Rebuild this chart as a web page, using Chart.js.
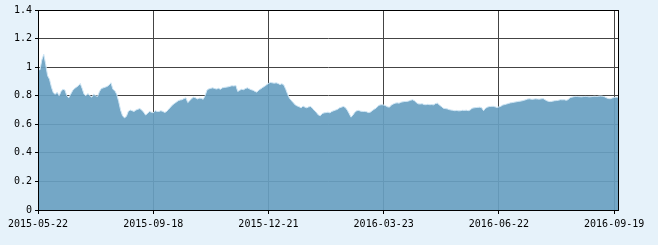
<!DOCTYPE html>
<html>
<head>
<meta charset="utf-8">
<script src="https://cdn.jsdelivr.net/npm/chart.js@4"></script>
<style>
  html, body { margin: 0; padding: 0; background: #e6f2fa; }
  #wrap { width: 658px; height: 245px; position: relative; }
</style>
</head>
<body>
<div id="wrap"><canvas id="c" width="658" height="245"></canvas></div>
<script>
// Net value series (one value per trading point)
const values = [
  0.99,0.98,1.05,1.09,1.02,0.94,0.915,0.86,0.82,0.81,
  0.825,0.80,0.83,0.845,0.84,0.80,0.785,0.81,0.835,0.85,
  0.86,0.87,0.885,0.85,0.81,0.80,0.815,0.80,0.79,0.81,
  0.80,0.795,0.83,0.85,0.855,0.86,0.865,0.875,0.89,0.845,
  0.835,0.81,0.76,0.70,0.66,0.645,0.655,0.69,0.70,0.695,
  0.69,0.70,0.705,0.71,0.70,0.685,0.665,0.675,0.69,0.685,
  0.68,0.695,0.69,0.69,0.695,0.69,0.683,0.69,0.705,0.72,
  0.735,0.745,0.755,0.765,0.77,0.772,0.78,0.785,0.752,0.765,
  0.78,0.79,0.785,0.777,0.783,0.782,0.775,0.80,0.84,0.848,
  0.852,0.855,0.85,0.847,0.852,0.845,0.855,0.858,0.86,0.862,
  0.866,0.87,0.868,0.872,0.83,0.838,0.845,0.842,0.85,0.855,
  0.848,0.842,0.838,0.83,0.825,0.84,0.848,0.858,0.866,0.876,
  0.886,0.893,0.89,0.888,0.89,0.886,0.878,0.884,0.875,0.845,
  0.81,0.78,0.765,0.75,0.735,0.728,0.722,0.715,0.728,0.72,
  0.715,0.722,0.725,0.71,0.695,0.682,0.665,0.66,0.675,0.68,
  0.682,0.685,0.68,0.69,0.695,0.70,0.705,0.715,0.72,0.725,
  0.718,0.70,0.675,0.65,0.665,0.685,0.695,0.697,0.692,0.69,
  0.69,0.688,0.682,0.685,0.695,0.705,0.712,0.728,0.735,0.737,
  0.735,0.73,0.722,0.72,0.735,0.742,0.748,0.75,0.748,0.755,
  0.757,0.76,0.76,0.763,0.768,0.772,0.765,0.752,0.743,0.742,
  0.744,0.738,0.737,0.74,0.737,0.738,0.736,0.745,0.748,0.735,
  0.725,0.713,0.71,0.708,0.703,0.70,0.698,0.695,0.697,0.694,
  0.695,0.698,0.697,0.699,0.695,0.70,0.712,0.715,0.717,0.718,
  0.72,0.716,0.695,0.712,0.72,0.724,0.725,0.726,0.722,0.718,
  0.722,0.726,0.735,0.738,0.742,0.746,0.75,0.752,0.755,0.757,
  0.76,0.762,0.764,0.768,0.772,0.777,0.778,0.775,0.776,0.778,
  0.777,0.776,0.778,0.78,0.772,0.764,0.76,0.759,0.762,0.765,
  0.766,0.768,0.772,0.771,0.772,0.768,0.772,0.786,0.79,0.793,
  0.795,0.794,0.793,0.792,0.794,0.795,0.794,0.792,0.793,0.795,
  0.796,0.794,0.797,0.798,0.796,0.792,0.785,0.78,0.779,0.784,
  0.788,0.79,0.789
];

// Date tick labels and the point index at which each one sits
const tickLabels = ['2015-05-22','2015-09-18','2015-12-21','2016-03-23','2016-06-22','2016-09-19'];
const tickIndex  = [0, 60, 120, 180, 240, 300];

// Y axis ticks
const yTicks = [0, 0.2, 0.4, 0.6, 0.8, 1, 1.2, 1.4];

const indices = values.map((v, i) => i);

const framePlugin = {
  id: 'frame',
  beforeDraw(chart) {
    const { ctx, chartArea: a } = chart;
    ctx.save();
    ctx.fillStyle = '#ffffff';
    ctx.fillRect(a.left, a.top, a.right - a.left, a.bottom - a.top);
    ctx.restore();
  },
  afterDatasetsDraw(chart) {
    const { ctx, chartArea: a } = chart;
    ctx.save();
    ctx.strokeStyle = '#000';
    ctx.lineWidth = 1;
    ctx.strokeRect(Math.round(a.left) + 0.5, Math.round(a.top) + 0.5,
                   Math.round(a.right - a.left), Math.round(a.bottom - a.top));
    ctx.restore();
  }
};

new Chart(document.getElementById('c'), {
  type: 'line',
  data: {
    labels: indices,
    datasets: [{
      data: values,
      fill: 'origin',
      backgroundColor: 'rgba(104,160,193,0.92)',
      borderColor: '#cfe6f5',
      borderWidth: 1,
      pointRadius: 0,
      tension: 0
    }]
  },
  options: {
    responsive: false,
    animation: false,
    layout: { padding: { left: 0, top: 10, right: 40, bottom: 0 } },
    plugins: { legend: { display: false }, tooltip: { enabled: false } },
    scales: {
      x: {
        type: 'linear',
        min: 0,
        max: values.length - 1,
        afterBuildTicks(scale) { scale.ticks = tickIndex.map(v => ({ value: v })); },
        afterFit(scale) { scale.height = 35; },
        grid: { color: '#444', lineWidth: 1, tickLength: 4, tickColor: '#000', drawOnChartArea: true },
        border: { color: '#000', width: 1 },
        ticks: {
          autoSkip: false, maxRotation: 0, includeBounds: false,
          padding: 4, color: '#000',
          font: { family: 'DejaVu Sans Mono', size: 10 },
          callback: (v) => { const k = tickIndex.indexOf(v); return k >= 0 ? tickLabels[k] : ''; }
        }
      },
      y: {
        min: yTicks[0],
        max: yTicks[yTicks.length - 1],
        afterBuildTicks(scale) { scale.ticks = yTicks.map(v => ({ value: v })); },
        afterFit(scale) { scale.width = 38; },
        grid: { color: '#444', lineWidth: 1, tickLength: 3, tickColor: '#000' },
        border: { color: '#000', width: 1 },
        ticks: {
          padding: 3, color: '#000',
          font: { family: 'DejaVu Sans Mono', size: 10 },
          callback: (v) => String(Math.round(v * 10) / 10)
        }
      }
    }
  },
  plugins: [framePlugin]
});
</script>
</body>
</html>
